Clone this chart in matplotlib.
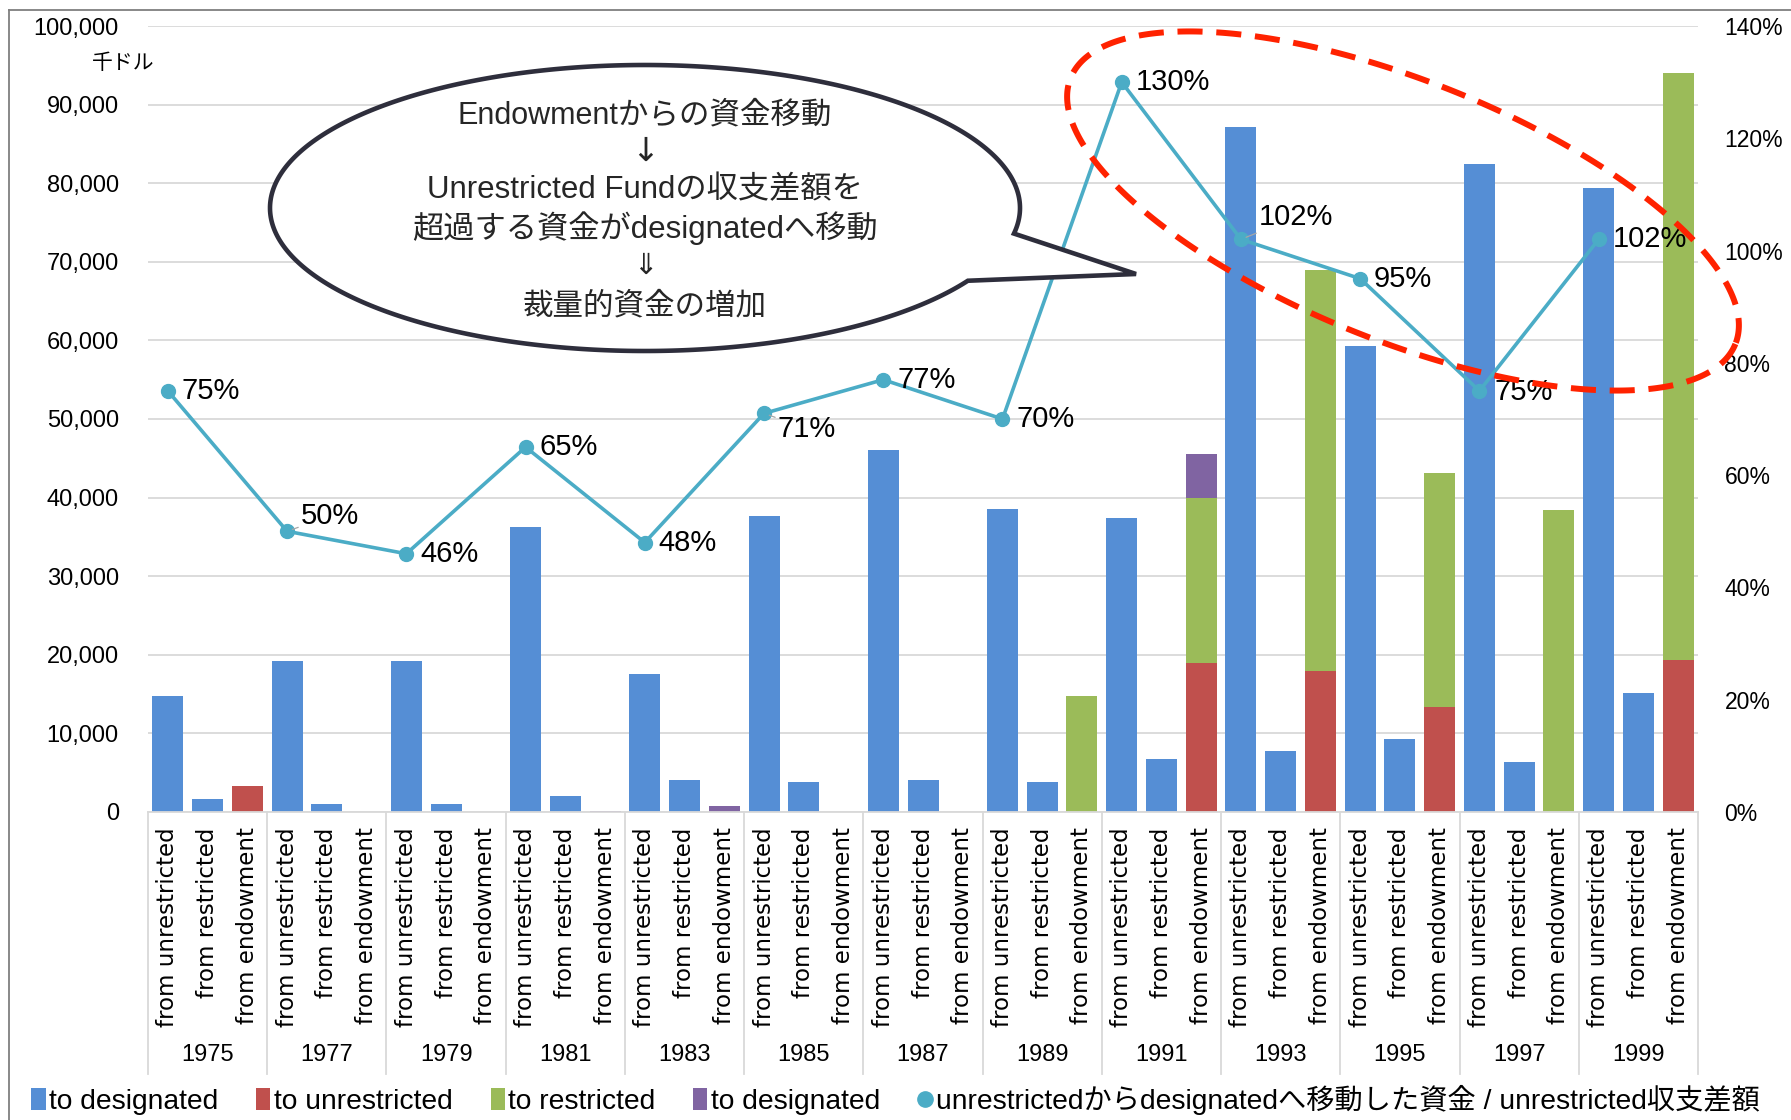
import matplotlib
matplotlib.use('Agg')
import matplotlib.pyplot as plt
import numpy as np
from matplotlib.patches import Polygon, Patch
from matplotlib.lines import Line2D
from matplotlib.transforms import IdentityTransform
from matplotlib.ticker import FuncFormatter, MultipleLocator
from matplotlib.font_manager import FontProperties

# ---------------- data ----------------
years = [1975, 1977, 1979, 1981, 1983, 1985, 1987, 1989, 1991, 1993, 1995, 1997, 1999]
sources = ['from unrestricted', 'from restricted', 'from endowment']
unres_to_designated = [14800, 19200, 19200, 36200, 17500, 37600, 46100, 38600, 37400, 87100, 59300, 82500, 79400]
restr_to_designated = [1700, 1000, 1000, 2000, 4100, 3800, 4100, 3800, 6700, 7700, 9300, 6400, 15100]
endow_to_unrestricted = [3300, 0, 0, 0, 0, 0, 0, 0, 18900, 18000, 13400, 0, 19300]
endow_to_restricted = [0, 0, 0, 0, 0, 0, 0, 14700, 21000, 51000, 29700, 38400, 74700]
endow_to_designated = [0, 0, 0, 150, 750, 0, 0, 0, 5600, 0, 0, 0, 0]
ratio_pct = [75, 50, 46, 65, 48, 71, 77, 70, 130, 102, 95, 75, 102]

legend_labels = ['to designated', 'to unrestricted', 'to restricted', 'to designated',
                 'unrestrictedからdesignatedへ移動した資金 / unrestricted収支差額']
callout_lines = ['Endowmentからの資金移動', '↓', 'Unrestricted Fundの収支差額を',
                 '超過する資金がdesignatedへ移動', '⇓', '裁量的資金の増加']

# ---------------- style ----------------
BLUE = '#558ED5'
RED = '#C0504D'
GREEN = '#9BBB59'
PURPLE = '#8064A2'
CYAN = '#4BACC6'
GRID = '#D9D9D9'
SANS = ['Liberation Sans', 'DejaVu Sans']
CJK = ['Liberation Sans', 'Noto Sans CJK JP', 'DejaVu Sans']

W, H = 1791, 1120
fig = plt.figure(figsize=(W / 100, H / 100), dpi=100)
fig.patch.set_facecolor('white')
ax = fig.add_axes([148 / W, 1 - 812 / H, (1698 - 148) / W, (812 - 26) / H])

n = len(years)
x = np.arange(3 * n)
blue = np.zeros(3 * n); red = np.zeros(3 * n); green = np.zeros(3 * n); purple = np.zeros(3 * n)
blue[0::3] = unres_to_designated
blue[1::3] = restr_to_designated
red[2::3] = endow_to_unrestricted
green[2::3] = endow_to_restricted
purple[2::3] = endow_to_designated

bw = 0.78
ax.bar(x, blue, width=bw, color=BLUE, linewidth=0, zorder=2)
ax.bar(x, red, width=bw, bottom=blue, color=RED, linewidth=0, zorder=2)
ax.bar(x, green, width=bw, bottom=blue + red, color=GREEN, linewidth=0, zorder=2)
ax.bar(x, purple, width=bw, bottom=blue + red + green, color=PURPLE, linewidth=0, zorder=2)

ax.set_xlim(-0.5, 3 * n - 0.5)
ax.set_ylim(0, 100000)
ax.yaxis.set_major_locator(MultipleLocator(10000))
ax.yaxis.set_major_formatter(FuncFormatter(lambda v, p: f'{int(v):,}'))
ax.grid(axis='y', color=GRID, lw=1.3, zorder=0)
ax.set_axisbelow(True)
for s in ['top', 'right', 'left']:
    ax.spines[s].set_visible(False)
ax.spines['bottom'].set_color(GRID)
ax.spines['bottom'].set_linewidth(1.3)
ax.set_xticks(x)
ax.set_xticklabels(sources * n, rotation=90, fontsize=16.5, family='DejaVu Sans', va='top')
ax.tick_params(axis='x', length=0, pad=11)
ax.tick_params(axis='y', length=0, pad=21)
for t in ax.get_yticklabels():
    t.set_fontfamily(SANS)
    t.set_fontsize(17)

xt = ax.get_xaxis_transform()
for i, yr in enumerate(years):
    ax.text(3 * i + 1, -0.309, str(yr), transform=xt, ha='center', va='center',
            fontsize=17, family=SANS)
for b in np.arange(-0.5, 3 * n, 3):
    ax.plot([b, b], [0, -0.333], transform=xt, color=GRID, lw=1.3, clip_on=False)

ax2 = ax.twinx()
ax2.set_ylim(0, 140)
ax2.yaxis.set_major_locator(MultipleLocator(20))
ax2.yaxis.set_major_formatter(FuncFormatter(lambda v, p: f'{int(v)}%'))
for s in ['top', 'right', 'left', 'bottom']:
    ax2.spines[s].set_visible(False)
ax2.tick_params(axis='y', length=0, pad=19)
for t in ax2.get_yticklabels():
    t.set_fontfamily(SANS)
    t.set_fontsize(16.5)

px = x[0::3]
ax2.plot(px, ratio_pct, color=CYAN, lw=2.6, marker='o', ms=10, zorder=3)
offsets = [(10, 0), (10, 11), (10, 0), (10, 0), (10, 0), (10, -11), (10, 0),
           (10, 0), (10, 0), (13, 16), (10, 0), (11, -1), (10, 0)]
leaders = [False, True, False, False, False, True, False, False, False, True, False, False, False]
for xi, v, off, ld in zip(px, ratio_pct, offsets, leaders):
    ap = dict(arrowstyle='-', color='#A6A6A6', lw=0.9, shrinkA=0, shrinkB=4) if ld else None
    ax2.annotate(f'{v}%', xy=(xi, v), xytext=off, textcoords='offset points',
                 ha='left', va='center', fontsize=21, family=SANS, arrowprops=ap, zorder=4)

fig.text(123 / W, 1 - 63 / H, '千ドル', ha='center', va='center', fontsize=15,
         family=['Noto Sans CJK JP', 'DejaVu Sans'])

# legend
handles = [Patch(facecolor=BLUE), Patch(facecolor=RED), Patch(facecolor=GREEN), Patch(facecolor=PURPLE),
           Line2D([], [], color=CYAN, marker='o', linestyle='None', markersize=11)]
fig.legend(handles, legend_labels, loc='center', bbox_to_anchor=(0.5, 0.018), ncol=5,
           frameon=False, prop=FontProperties(family=CJK, size=20.3), handlelength=0.5,
           handleheight=0.8, handletextpad=0.12, columnspacing=1.35)

# outer frame
fig.add_artist(Line2D([9 / W, 1], [1 - 10 / H, 1 - 10 / H], transform=fig.transFigure, color='#7F7F7F', lw=1.3))
fig.add_artist(Line2D([9 / W, 9 / W], [0, 1 - 10 / H], transform=fig.transFigure, color='#7F7F7F', lw=1.3))

# callout (image-pixel coords, y down)
cx, cy, rx, ry = 645, 208, 375, 143
t1 = np.arctan2((234 - cy) / ry, (1020 - cx) / rx)
t2 = np.arctan2((281 - cy) / ry, (969 - cx) / rx)
ts = np.linspace(t2, t1 + 2 * np.pi, 400)
pts = [(cx + rx * np.cos(t), H - (cy + ry * np.sin(t))) for t in ts]
pts.append((1136, H - 274))
fig.add_artist(Polygon(pts, closed=True, transform=IdentityTransform(), facecolor='white',
                       edgecolor='#2E2E3C', lw=3.3, zorder=5, joinstyle='miter'))
line_y = [115, 151, 190, 228, 266, 306]
line_fs = [22, 24, 22.5, 22.5, 21, 22]
line_fam = [CJK, ['DejaVu Sans'], CJK, CJK, ['DejaVu Sans'], CJK]
for txt, yy, fs, fam in zip(callout_lines, line_y, line_fs, line_fam):
    fig.text(645 / W, 1 - yy / H, txt, ha='center', va='center', fontsize=fs, family=fam,
             color='#262626', zorder=6)

# red dashed ellipse
ecx, ecy, ea, eb, th = 1403, 211, 358, 130, np.deg2rad(21.8)
tt = np.linspace(0, 2 * np.pi, 500)
ex = ecx + ea * np.cos(tt) * np.cos(th) - eb * np.sin(tt) * np.sin(th)
ey = ecy + ea * np.cos(tt) * np.sin(th) + eb * np.sin(tt) * np.cos(th)
fig.add_artist(Polygon(np.column_stack([ex, H - ey]), closed=True, transform=IdentityTransform(),
                       fill=False, edgecolor='#FF2200', lw=4.3, linestyle=(0, (4.2, 2.3)), zorder=7))

fig.savefig('out.png', dpi=100)
